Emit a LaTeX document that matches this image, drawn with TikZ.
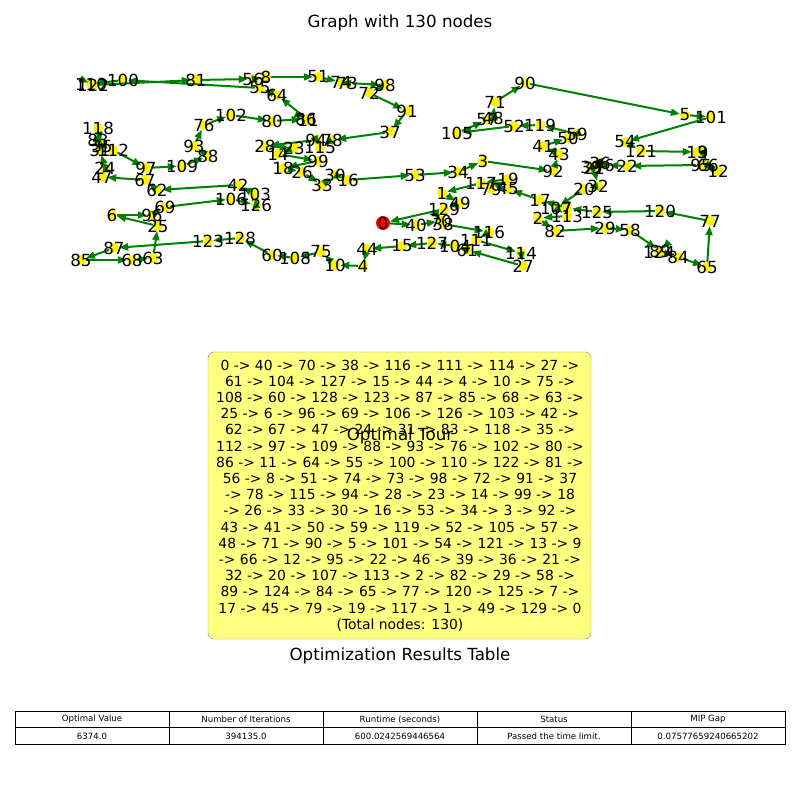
\documentclass[tikz,border=0pt]{standalone}
\usepackage{fontspec}
\setmainfont{DejaVu Sans}
\usetikzlibrary{arrows.meta}
\definecolor{mplgreen}{HTML}{008000}
\definecolor{boxyellow}{HTML}{FFFF80}
\begin{document}
\begin{tikzpicture}[x=1pt,y=-1pt,
 dot/.style={circle,fill=yellow,inner sep=0pt,minimum size=10pt},
 root/.style={circle,fill=red,inner sep=0pt,minimum size=14pt},
 lbl/.style={font=\fontsize{16.7}{18}\selectfont,inner sep=0pt},
 edge/.style={draw=mplgreen,line width=2pt,-{Triangle[length=9pt,width=7pt]}},
 ttl/.style={font=\fontsize{16.7}{18}\selectfont,inner sep=0pt},
 cell/.style={font=\fontsize{8.6}{10}\selectfont,inner sep=0pt},
]
\useasboundingbox (0,0) rectangle (800,800);
\node[ttl] (title) at (400,23) {Graph with 130 nodes};
% nodes
\node[root] (n0) at (383,223) {};
\foreach \i/\p/\q in {1/442/193,2/538/218,3/483/161,4/363/266,5/685/115,6/112/215,7/567/208,8/266/77,9/703/152,10/335/265,
11/308/120,12/718/171,13/697/152,14/278/154,15/402/246,16/348/180,17/540/200,18/283/168,19/508/179,20/584/189,
21/594/168,22/627/166,23/294/148,24/105/168,25/158/226,26/302/172,27/523/266,28/265/146,29/605/228,30/335/175,
31/100/150,32/598/186,33/322/185,34/458/172,35/102/146,36/600/163,37/390/132,38/443/224,39/591/167,40/416/225,
41/543/146,42/238/185,43/559/154,44/367/249,45/508/189,46/604/165,47/102/177,48/493/118,49/460/203,50/568/138,
51/318/77,52/514/126,53/415/175,54/625/142,55/260/88,56/253/79,57/487/120,58/630/230,59/577/134,60/272/255,
61/467/250,62/157/190,63/153/258,64/277/95,65/707/267,66/708/165,67/145/180,68/132/260,69/165/207,70/441/221,
71/495/102,72/369/93,73/347/83,74/341/82,75/321/252,76/204/125,77/710/221,78/332/140,79/491/189,80/272/121,
81/196/80,82/555/231,83/98/140,84/678/257,85/81/260,86/306/119,87/114/248,88/208/156,89/660/251,90/525/83,
91/407/111,92/553/171,93/194/146,94/316/140,95/701/165,96/152/215,97/146/168,98/385/85,99/318/161,100/123/80,
101/711/117,102/231/115,103/255/194,104/455/246,105/457/133,106/231/199,107/556/208,108/295/258,109/182/166,110/91/84,
111/476/240,112/113/150,113/567/216,114/521/253,115/320/148,116/489/232,117/481/183,118/98/128,119/540/125,120/660/211,
121/641/151,122/93/85,123/208/241,124/659/252,125/597/212,126/256/205,127/432/243,128/240/238,129/444/209}
  \node[dot] (n\i) at (\p,\q) {};
% edges
\foreach \a/\b in {0/40,40/70,70/38,38/116,116/111,111/114,114/27,27/61,61/104,104/127,127/15,15/44,44/4,4/10,10/75,75/108,108/60,60/128,128/123,123/87,87/85,85/68,68/63,63/25,25/6,6/96,96/69,69/106,106/126,126/103,103/42,42/62,62/67,67/47,47/24,24/31,31/83,83/118,118/35,35/112,112/97,97/109,109/88,88/93,93/76,76/102,102/80,80/86,86/11,11/64,64/55,55/100,100/110,110/122,122/81,81/56,56/8,8/51,51/74,74/73,73/98,98/72,72/91,91/37,37/78,78/115,115/94,94/28,28/23,23/14,14/99,99/18,18/26,26/33,33/30,30/16,16/53,53/34,34/3,3/92,92/43,43/41,41/50,50/59,59/119,119/52,52/105,105/57,57/48,48/71,71/90,90/5,5/101,101/54,54/121,121/13,13/9,9/66,66/12,12/95,95/22,22/46,46/39,39/36,36/21,21/32,32/20,20/107,107/113,113/2,2/82,82/29,29/58,58/89,89/124,124/84,84/65,65/77,77/120,120/125,125/7,7/17,17/45,45/79,79/19,19/117,117/1,1/49,49/129,129/0}
  \draw[edge] (n\a) -- (n\b);
% labels
\foreach \i in {0,...,129}
  \node[lbl] (l\i) at (n\i) {\i};
% tour box
\draw[draw=gray,fill=boxyellow,rounded corners=6pt] (208,352) rectangle (591,639);
\node[font=\fontsize{13.9}{16.2}\selectfont,align=center,inner sep=0pt] (tour) at (400,495.5) {%
0 -> 40 -> 70 -> 38 -> 116 -> 111 -> 114 -> 27 ->\\
61 -> 104 -> 127 -> 15 -> 44 -> 4 -> 10 -> 75 ->\\
108 -> 60 -> 128 -> 123 -> 87 -> 85 -> 68 -> 63 ->\\
25 -> 6 -> 96 -> 69 -> 106 -> 126 -> 103 -> 42 ->\\
62 -> 67 -> 47 -> 24 -> 31 -> 83 -> 118 -> 35 ->\\
112 -> 97 -> 109 -> 88 -> 93 -> 76 -> 102 -> 80 ->\\
86 -> 11 -> 64 -> 55 -> 100 -> 110 -> 122 -> 81 ->\\
56 -> 8 -> 51 -> 74 -> 73 -> 98 -> 72 -> 91 -> 37\\
-> 78 -> 115 -> 94 -> 28 -> 23 -> 14 -> 99 -> 18\\
-> 26 -> 33 -> 30 -> 16 -> 53 -> 34 -> 3 -> 92 ->\\
43 -> 41 -> 50 -> 59 -> 119 -> 52 -> 105 -> 57 ->\\
48 -> 71 -> 90 -> 5 -> 101 -> 54 -> 121 -> 13 -> 9\\
-> 66 -> 12 -> 95 -> 22 -> 46 -> 39 -> 36 -> 21 ->\\
32 -> 20 -> 107 -> 113 -> 2 -> 82 -> 29 -> 58 ->\\
89 -> 124 -> 84 -> 65 -> 77 -> 120 -> 125 -> 7 ->\\
17 -> 45 -> 79 -> 19 -> 117 -> 1 -> 49 -> 129 -> 0\\
(Total nodes: 130)};
\node[ttl] (tourtitle) at (400,436) {Optimal Tour};
% table
\node[ttl] (tabtitle) at (400,656) {Optimization Results Table};
\draw[line width=1pt] (15,711) rectangle (785,744);
\draw[line width=1pt] (15,727.5) -- (785,727.5);
\foreach \xx in {169,323,477,631} \draw[line width=1pt] (\xx,711) -- (\xx,744);
\node[cell] (h1) at (92,719.5) {Optimal Value};
\node[cell] (h2) at (246,719.5) {Number of Iterations};
\node[cell] (h3) at (400,719.5) {Runtime (seconds)};
\node[cell] (h4) at (554,719.5) {Status};
\node[cell] (h5) at (708,719.5) {MIP Gap};
\node[cell] (v1) at (92,736) {6374.0};
\node[cell] (v2) at (246,736) {394135.0};
\node[cell] (v3) at (400,736) {600.0242569446564};
\node[cell] (v4) at (554,736) {Passed the time limit.};
\node[cell] (v5) at (708,736) {0.07577659240665202};
\end{tikzpicture}
\end{document}
